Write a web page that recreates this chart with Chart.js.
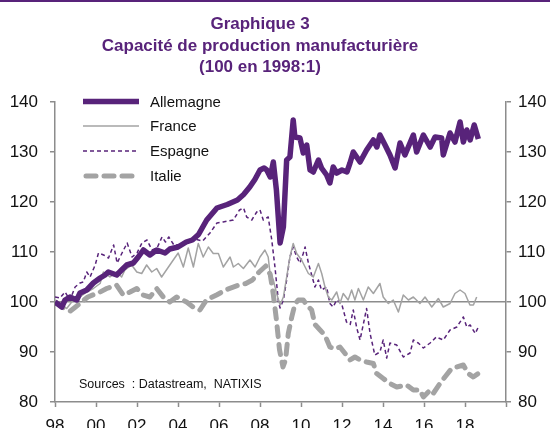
<!DOCTYPE html>
<html>
<head>
<meta charset="utf-8">
<script src="https://cdn.jsdelivr.net/npm/chart.js@4"></script>
<style>
  html, body { margin: 0; padding: 0; background: #fff; }
</style>
</head>
<body>
<canvas id="capaciteChart" width="550" height="428"></canvas>
<script>
    // Données (années décimales, 100 en 1998:1)
    const allemagneX = [1998.0, 1998.17, 1998.33, 1998.49, 1998.73, 1999.06, 1999.22, 1999.55, 1999.87, 2000.2, 2000.44, 2000.6, 2001.01, 2001.25, 2001.5, 2001.82, 2002.06, 2002.31, 2002.63, 2002.96, 2003.37, 2003.6, 2004.0, 2004.4, 2004.7, 2005.0, 2005.4, 2005.9, 2006.4, 2006.9, 2007.2, 2007.5, 2007.75, 2008.0, 2008.2, 2008.33, 2008.5, 2008.65, 2008.8, 2008.98, 2009.14, 2009.3, 2009.46, 2009.62, 2009.7, 2009.95, 2010.11, 2010.28, 2010.44, 2010.6, 2010.85, 2011.0, 2011.25, 2011.41, 2011.57, 2011.74, 2012.0, 2012.24, 2012.39, 2012.55, 2012.88, 2013.2, 2013.53, 2013.7, 2013.85, 2014.1, 2014.34, 2014.59, 2014.83, 2015.07, 2015.48, 2015.64, 2015.97, 2016.3, 2016.54, 2016.86, 2016.94, 2017.27, 2017.51, 2017.76, 2017.92, 2018.09, 2018.25, 2018.45, 2018.65];
    const allemagneY = [100, 99.5, 99, 100.4, 101, 100.4, 101.8, 102.4, 103.8, 104.8, 105.4, 106, 105.4, 106.4, 107.4, 107.8, 109, 110.4, 109.4, 110.4, 109.8, 110.6, 111, 112, 112.4, 113.5, 116.4, 118.8, 119.5, 120.4, 121.5, 123, 124.5, 126.4, 126.8, 126.4, 125, 128, 122.4, 111.8, 115, 128.4, 129, 136.4, 133, 132.8, 129.8, 131.4, 126.4, 126, 128.4, 126.8, 125.4, 123.8, 127, 125.8, 126.4, 126, 127.8, 130, 128, 130.4, 132.4, 131, 133.4, 131.4, 129.4, 126.8, 131.8, 129.4, 133.4, 130, 133.4, 131, 133, 132.8, 129.4, 133.8, 132, 136, 132, 134.4, 132.4, 135.4, 132.6];

    const franceX = [1998.0, 1998.24, 1998.57, 1998.89, 1999.22, 1999.55, 1999.87, 2000.2, 2000.36, 2000.68, 2001.01, 2001.25, 2001.41, 2001.74, 2001.99, 2002.23, 2002.47, 2002.72, 2002.96, 2003.2, 2003.45, 2003.77, 2004.01, 2004.26, 2004.5, 2004.75, 2004.99, 2005.23, 2005.48, 2005.72, 2005.97, 2006.21, 2006.54, 2006.7, 2006.94, 2007.19, 2007.51, 2007.76, 2008.0, 2008.24, 2008.4, 2008.49, 2008.65, 2008.81, 2008.98, 2009.14, 2009.3, 2009.46, 2009.62, 2009.79, 2010.03, 2010.2, 2010.36, 2010.6, 2010.85, 2011.01, 2011.17, 2011.33, 2011.5, 2011.74, 2011.9, 2012.06, 2012.3, 2012.47, 2012.63, 2012.8, 2013.04, 2013.28, 2013.53, 2013.85, 2014.01, 2014.26, 2014.5, 2014.75, 2014.99, 2015.24, 2015.48, 2015.8, 2016.05, 2016.38, 2016.7, 2016.94, 2017.27, 2017.51, 2017.76, 2018.0, 2018.24, 2018.41, 2018.57];
    const franceY = [100, 99.7, 98.7, 100.4, 101, 102, 102.7, 103.7, 106, 105, 106, 105, 106.4, 107.4, 106, 105.7, 107.4, 106, 106.7, 105, 106.5, 108.4, 109.8, 107, 110.8, 107, 111.7, 109, 111, 109.7, 109.7, 107, 109, 107, 107.7, 106.7, 108.4, 107, 109, 110.4, 109, 105.7, 104.4, 101.7, 99.4, 101, 105, 109, 111.7, 109.7, 108.4, 107, 105.7, 105, 107.7, 105.7, 103, 101, 100.4, 102, 99.7, 101.7, 100.4, 102.4, 100.4, 102.7, 100.4, 103, 101.7, 103.7, 101, 99.7, 100.4, 98, 101.4, 100.4, 101, 99.7, 101, 99, 100.7, 99, 99.7, 101.7, 102.4, 101.7, 99.4, 99.4, 101];

    const espagneX = [1998.0, 1998.24, 1998.49, 1998.73, 1998.98, 1999.22, 1999.38, 1999.55, 1999.71, 1999.96, 2000.12, 2000.37, 2000.61, 2000.86, 2001.03, 2001.27, 2001.52, 2001.76, 2002.0, 2002.24, 2002.49, 2002.73, 2002.98, 2003.22, 2003.39, 2003.55, 2003.8, 2004.1, 2004.5, 2004.9, 2005.2, 2005.56, 2005.9, 2006.2, 2006.7, 2007.0, 2007.2, 2007.35, 2007.6, 2007.84, 2008.0, 2008.16, 2008.4, 2008.57, 2008.73, 2008.9, 2008.98, 2009.14, 2009.3, 2009.46, 2009.62, 2009.79, 2009.95, 2010.11, 2010.2, 2010.36, 2010.52, 2010.68, 2010.85, 2011.0, 2011.25, 2011.41, 2011.57, 2011.74, 2011.98, 2012.22, 2012.4, 2012.55, 2012.72, 2012.88, 2013.2, 2013.37, 2013.6, 2013.85, 2014.01, 2014.18, 2014.34, 2014.67, 2014.99, 2015.32, 2015.48, 2015.72, 2015.97, 2016.3, 2016.6, 2016.94, 2017.27, 2017.6, 2017.92, 2018.09, 2018.25, 2018.5, 2018.65];
    const espagneY = [101, 100.8, 102, 100.4, 103, 103.8, 104, 106, 105, 107.4, 109.8, 109.4, 108.8, 111.4, 107.8, 109.8, 111.8, 109, 109.8, 111.8, 112.4, 110.4, 110.8, 113, 112, 113, 111.4, 111.5, 112, 112.5, 112.2, 113.8, 115.8, 116, 116.4, 118.4, 118.8, 117, 116.4, 118, 118.4, 116.4, 117, 112.5, 107, 100, 98.8, 100.4, 104.4, 109, 111, 109, 107.8, 109.7, 111, 107.8, 105.4, 103, 104.4, 102.4, 103, 99.7, 99, 100.4, 99.7, 96, 95.5, 98.4, 94.8, 92.4, 98.7, 93.7, 89.4, 90, 92.4, 88.8, 91.8, 91.4, 89, 89.8, 92.4, 91.8, 90.8, 91.8, 93, 92.4, 94.4, 95, 97, 95, 95.4, 93.7, 95];

    const italieX = [1998.0, 1998.25, 1998.5, 1998.75, 1999.0, 1999.3, 1999.6, 1999.9, 2000.2, 2000.52, 2001.0, 2001.33, 2001.66, 2001.99, 2002.3, 2002.63, 2002.96, 2003.28, 2003.6, 2003.93, 2004.42, 2004.83, 2005.07, 2005.39, 2005.88, 2006.37, 2006.98, 2007.31, 2007.63, 2007.96, 2008.28, 2008.5, 2008.65, 2008.8, 2008.95, 2009.12, 2009.25, 2009.38, 2009.55, 2009.7, 2009.87, 2010.11, 2010.28, 2010.52, 2010.68, 2010.93, 2011.17, 2011.41, 2011.65, 2011.9, 2012.15, 2012.39, 2012.63, 2012.88, 2013.2, 2013.53, 2013.69, 2014.01, 2014.34, 2014.67, 2015.15, 2015.48, 2015.8, 2015.97, 2016.3, 2016.45, 2016.78, 2017.02, 2017.35, 2017.6, 2017.92, 2018.16, 2018.4, 2018.65];
    const italieY = [100, 99.4, 98.5, 98.2, 99, 100, 101, 101.5, 102, 102.7, 103.4, 101.4, 102, 102.7, 101.4, 101, 102.7, 101, 100, 101, 100, 98.7, 98.4, 100.4, 101.4, 102.5, 103.4, 103.7, 104.4, 106, 107.2, 105.5, 101.5, 96.5, 90.5, 87, 88.5, 93.7, 97, 99.5, 100.4, 100.4, 99.4, 98.4, 95.5, 94.4, 93.3, 91, 90.6, 91, 89.7, 88.4, 89, 88.4, 88, 87.7, 85.7, 84.7, 83.7, 83, 83.4, 82.4, 82.4, 81, 82.4, 81.7, 83.7, 85, 86.7, 87, 87.4, 85.7, 85, 85.7];

    const yTicks = [80, 90, 100, 110, 120, 130, 140];
    const titleLines = ['Graphique 3', 'Capacité de production manufacturière', '(100 en 1998:1)'];
    const sourceText = 'Sources  : Datastream,  NATIXIS';

    const violet = '#58237a';
    const gris = '#a3a3a3';
    const axe = '#8c8c8c';
    const police = "'Liberation Sans', Arial, sans-serif";

    const pts = (xs, ys) => xs.map((x, i) => ({ x: x, y: ys[i] }));

    const datasets = [
        { label: 'Allemagne', data: pts(allemagneX, allemagneY), borderColor: violet, borderWidth: 5.5, borderDash: [] },
        { label: 'France', data: pts(franceX, franceY), borderColor: gris, borderWidth: 1.5, borderDash: [] },
        { label: 'Espagne', data: pts(espagneX, espagneY), borderColor: violet, borderWidth: 1.5, borderDash: [4, 3] },
        { label: 'Italie', data: pts(italieX, italieY), borderColor: gris, borderWidth: 5, borderDash: [10, 8], borderCapStyle: 'round' }
    ].map(d => Object.assign({ pointRadius: 0, tension: 0, fill: false, borderJoinStyle: 'round' }, d));

    // Titre, légende, source et filet du haut
    const decor = {
        id: 'decor',
        beforeDraw(chart) {
            const c = chart.ctx;
            c.save();
            c.fillStyle = '#fff';
            c.fillRect(0, 0, chart.width, chart.height);
            c.fillStyle = violet;
            c.fillRect(0, 0, chart.width, 2);
            c.restore();
        },
        afterDraw(chart) {
            const c = chart.ctx;
            c.save();
            c.fillStyle = violet;
            c.font = 'bold 17px ' + police;
            c.textAlign = 'center';
            c.textBaseline = 'alphabetic';
            [29, 51, 72].forEach((y, i) => c.fillText(titleLines[i], 260, y));

            // légende
            c.textAlign = 'left';
            c.textBaseline = 'middle';
            c.font = '15px ' + police;
            [101.5, 126, 151, 176].forEach((y, i) => {
                const ds = chart.data.datasets[i];
                c.strokeStyle = ds.borderColor;
                c.lineWidth = ds.borderWidth;
                c.setLineDash(ds.borderDash);
                c.lineCap = ds.borderCapStyle || 'butt';
                c.beginPath();
                c.moveTo(i === 3 ? 86 : 83, y);
                c.lineTo(i === 3 ? 136 : 139, y);
                c.stroke();
                c.setLineDash([]);
                c.fillStyle = '#111';
                c.fillText(ds.label, 150, y + 1);
            });

            c.font = '12.5px ' + police;
            c.fillStyle = '#111';
            c.fillText(sourceText, 79, 385);
            c.restore();
        }
    };

    const yAxis = (pos) => ({
        position: pos,
        min: 80,
        max: 140,
        afterFit: s => { s.width = pos === 'left' ? 55 : 44; },
        afterBuildTicks: s => { s.ticks = yTicks.map(v => ({ value: v })); },
        ticks: { color: '#111', font: { size: 17, family: police }, padding: pos === 'left' ? 12 : 7 },
        grid: {
            drawOnChartArea: pos === 'left',
            color: ctx => (ctx.tick && ctx.tick.value === 100) ? axe : 'rgba(0,0,0,0)',
            lineWidth: 1.5,
            tickColor: axe,
            tickLength: 5,
            tickWidth: 1.5
        },
        border: { color: axe, width: 1.5 }
    });

    const ctx = document.getElementById('capaciteChart').getContext('2d');
    new Chart(ctx, {
        type: 'line',
        data: { datasets: datasets },
        options: {
            responsive: false,
            animation: false,
            layout: { padding: { top: 102 } },
            scales: {
                x: {
                    type: 'linear',
                    min: 1998,
                    max: 2020,
                    afterFit: s => { s.height = 26; },
                    ticks: {
                        stepSize: 2,
                        maxRotation: 0,
                        autoSkip: false,
                        padding: 9,
                        color: '#111',
                        font: { size: 17, family: police },
                        callback: v => v >= 2020 ? '' : String(v).slice(2)
                    },
                    grid: { drawOnChartArea: false, tickColor: axe, tickLength: 5, tickWidth: 1.5 },
                    border: { color: axe, width: 1.5 }
                },
                y: yAxis('left'),
                y2: yAxis('right')
            },
            plugins: {
                legend: { display: false },
                title: { display: false },
                tooltip: { enabled: false }
            }
        },
        plugins: [decor]
    });
</script>
</body>
</html>
